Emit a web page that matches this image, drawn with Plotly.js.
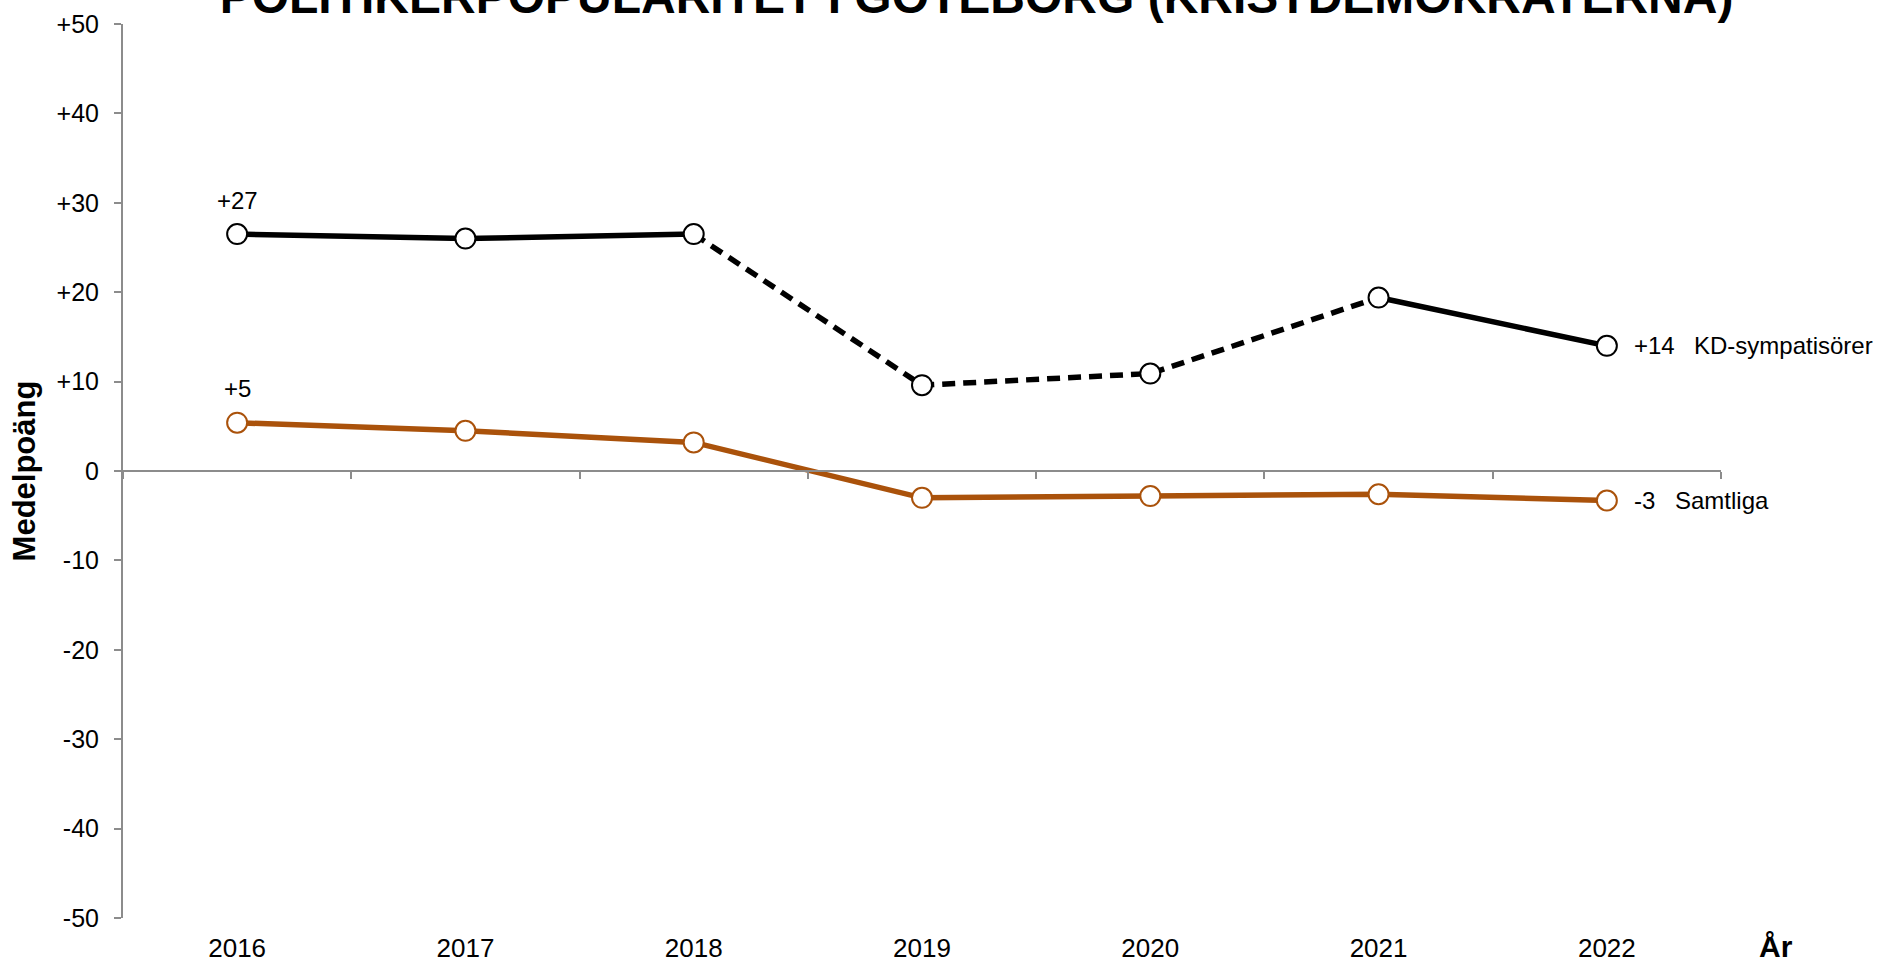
<!DOCTYPE html>
<html><head><meta charset="utf-8">
<script src="https://cdn.plot.ly/plotly-3.0.1.min.js"></script>
<style>html,body{margin:0;padding:0;background:#fff}#chart{width:1878px;height:961px}</style>
</head><body><div id="chart"></div>
<script>
// ---- data ----
const years = ['2016', '2017', '2018', '2019', '2020', '2021', '2022'];
const kdValues = [26.5, 26.0, 26.5, 9.6, 10.9, 19.4, 14.0];
const allValues = [5.4, 4.5, 3.2, -3.0, -2.8, -2.6, -3.3];
const kdSolidYearsA = ['2016', '2017', '2018'];
const kdDashedYears = ['2018', '2019', '2020', '2021'];
const kdSolidYearsB = ['2021', '2022'];
const seriesNames = ['KD-sympatisörer', 'Samtliga'];
const startLabels = ['+27', '+5'];
const endLabels = ['+14', '-3'];
const yTickVals = [-50, -40, -30, -20, -10, 0, 10, 20, 30, 40, 50];
const yTickText = ['-50', '-40', '-30', '-20', '-10', '0', '+10', '+20', '+30', '+40', '+50'];
const titleText = 'POLITIKERPOPULARITET I GÖTEBORG (KRISTDEMOKRATERNA)';
const yTitle = 'Medelpoäng';
const xTitle = 'År';

// ---- styles ----
const FONT = '"Liberation Sans", Arial, sans-serif';
const BLACK = '#000000';
const ORANGE = '#AA520B';
const GRAY = '#8C8C8C';

const pick = (yrs, vals) => yrs.map(y => vals[years.indexOf(y)]);

const traces = [
  {x: years, y: allValues, xaxis: 'x2', mode: 'markers', marker: {opacity: 0}, hoverinfo: 'skip', showlegend: false},
  {x: years, y: allValues, mode: 'lines', line: {color: ORANGE, width: 5.5}, name: seriesNames[1], hoverinfo: 'skip'},
  {x: kdSolidYearsA, y: pick(kdSolidYearsA, kdValues), mode: 'lines', line: {color: BLACK, width: 5.5}, hoverinfo: 'skip'},
  {x: kdDashedYears, y: pick(kdDashedYears, kdValues), mode: 'lines', line: {color: BLACK, width: 5.5, dash: '13px,8px'}, hoverinfo: 'skip'},
  {x: kdSolidYearsB, y: pick(kdSolidYearsB, kdValues), mode: 'lines', line: {color: BLACK, width: 5.5}, hoverinfo: 'skip'},
  {x: years, y: allValues, mode: 'markers', marker: {symbol: 'circle', size: 20, color: '#ffffff', line: {color: ORANGE, width: 2}}, name: seriesNames[1]},
  {x: years, y: kdValues, mode: 'markers', marker: {symbol: 'circle', size: 20, color: '#ffffff', line: {color: BLACK, width: 2}}, name: seriesNames[0]}
];

const last = years.length - 1;
const labelFont = {size: 24, color: BLACK, family: FONT};
const annotations = [
  {xref: 'x', yref: 'y', x: 0, y: kdValues[0], text: startLabels[0], showarrow: false, yshift: 34, font: labelFont},
  {xref: 'x', yref: 'y', x: 0, y: allValues[0], text: startLabels[1], showarrow: false, yshift: 34, font: labelFont},
  {xref: 'x', yref: 'y', x: last, y: kdValues[last], text: endLabels[0], showarrow: false, xanchor: 'left', xshift: 25, font: labelFont},
  {xref: 'x', yref: 'y', x: last, y: kdValues[last], text: seriesNames[0], showarrow: false, xanchor: 'left', xshift: 85, font: labelFont},
  {xref: 'x', yref: 'y', x: last, y: allValues[last], text: endLabels[1], showarrow: false, xanchor: 'left', xshift: 25, font: labelFont},
  {xref: 'x', yref: 'y', x: last, y: allValues[last], text: seriesNames[1], showarrow: false, xanchor: 'left', xshift: 66, font: labelFont},
  {xref: 'paper', yref: 'paper', x: 1.0344, y: -0.032, text: xTitle, showarrow: false, xanchor: 'center', yanchor: 'middle', font: {size: 30, color: BLACK, family: FONT, weight: 'bold'}}
];

const layout = {
  width: 1878, height: 961,
  paper_bgcolor: '#ffffff', plot_bgcolor: '#ffffff',
  margin: {l: 123, r: 157, t: 24, b: 43},
  showlegend: false,
  font: {family: FONT, color: BLACK},
  title: {text: titleText, font: {size: 48, weight: 'bold', family: FONT, color: BLACK},
          xref: 'container', x: 0.52, xanchor: 'center', yref: 'container', y: 0.9865, yanchor: 'bottom'},
  xaxis: {type: 'category', range: [-0.5, 6.5], showline: false, ticks: '', showgrid: false, zeroline: false,
          tickfont: {size: 26, color: BLACK, family: FONT}, ticklabelstandoff: 12, fixedrange: true},
  xaxis2: {type: 'category', overlaying: 'x', anchor: 'free', position: 0.5, range: [-0.5, 6.5],
           showline: true, linecolor: GRAY, linewidth: 2, ticks: 'outside', tickson: 'boundaries',
           ticklen: 7, tickwidth: 2, tickcolor: GRAY, showticklabels: false, showgrid: false, zeroline: false},
  yaxis: {range: [-50, 50], tickvals: yTickVals, ticktext: yTickText, ticks: 'outside', ticklen: 7, tickwidth: 2,
          tickcolor: GRAY, showline: true, linecolor: GRAY, linewidth: 2, showgrid: false, zeroline: false,
          tickfont: {size: 25, color: BLACK, family: FONT}, ticklabelstandoff: 10,
          title: {text: yTitle, font: {size: 31, weight: 'bold', family: FONT, color: BLACK}, standoff: 12}},
  annotations: annotations
};

Plotly.newPlot('chart', traces, layout, {displayModeBar: false, staticPlot: true});
</script>
</body></html>
